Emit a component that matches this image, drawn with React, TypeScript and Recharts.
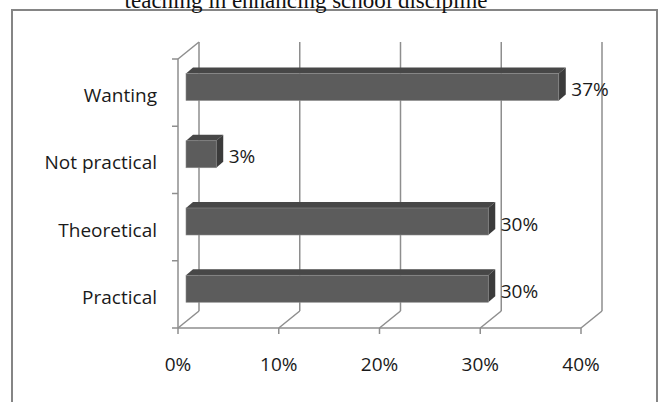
import React from "react";
import { BarChart, Bar, XAxis, YAxis, CartesianGrid, LabelList } from "recharts";

const categories = ["Wanting", "Not practical", "Theoretical", "Practical"];
const percents = [37, 3, 30, 30];
const xTicks = [0, 10, 20, 30, 40];
const TITLE = "teaching in enhancing school discipline";

const data = categories.map((name, i) => ({ name, value: percents[i] }));

const FONT = "'Open Sans', sans-serif";
const LINE = "#8e8e8e";
const TEXT = "#1a1a1a";

// 3d look: wall depth and the bar offset / thickness
const DX = 21;
const DY = 17;
const BX = 8;
const BY = 5.5;
const BD = 7;
const BH = 6;
const BAND = (328 - 59) / 4;

const gridLine = (p: any) => {
  const { x1, y1, y2, index } = p;
  return (
    <g key={`g-${index}`} stroke={LINE} strokeWidth={1.5}>
      <line x1={x1 + DX} y1={y1 - DY} x2={x1 + DX} y2={y2 - DY} />
      <line x1={x1} y1={y2} x2={x1 + DX} y2={y2 - DY} />
      {index === 0 && <line x1={x1} y1={y1} x2={x1 + DX} y2={y1 - DY} />}
    </g>
  );
};

const CatTick = (p: any) => {
  const { x, y, payload, index, visibleTicksCount } = p;
  const last = index === (visibleTicksCount ?? categories.length) - 1;
  return (
    <g>
      <text x={x} y={y + 9.5} textAnchor="end" fill={TEXT} fontSize={19} fontFamily={FONT}>
        {payload.value}
      </text>
      <line x1={x + 15} y1={y - BAND / 2} x2={x + 21} y2={y - BAND / 2} stroke={LINE} strokeWidth={1.5} />
      {last && <line x1={x + 15} y1={y + BAND / 2} x2={x + 21} y2={y + BAND / 2} stroke={LINE} strokeWidth={1.5} />}
    </g>
  );
};

const Bar3D = (p: any) => {
  const { x, y, width, height } = p;
  const fx = x + BX;
  const fy = y - BY;
  return (
    <g>
      <polygon
        points={`${fx},${fy} ${fx + width},${fy} ${fx + width + BD},${fy - BH} ${fx + BD},${fy - BH}`}
        fill="#474747"
      />
      <polygon
        points={`${fx + width},${fy} ${fx + width + BD},${fy - BH} ${fx + width + BD},${fy + height - BH} ${fx + width},${fy + height}`}
        fill="#3b3b3b"
      />
      <rect x={fx} y={fy} width={width} height={height} fill="#5c5c5c" stroke="#8a8a8a" strokeWidth={0.6} />
    </g>
  );
};

const ValueLabel = (p: any) => {
  const { x, y, width, height, value } = p;
  return (
    <text x={x + width + 20.5} y={y + height / 2 - BY + 9} fill={TEXT} fontSize={19} fontFamily={FONT}>
      {`${value}%`}
    </text>
  );
};

export default function App() {
  return (
    <div style={{ position: "absolute", left: 0, top: 0, width: 660, height: 402, background: "#fff", overflow: "hidden" }}>
      <div
        style={{
          position: "absolute", left: 11, top: 9, width: 647, height: 420,
          border: "2px solid #858585", boxSizing: "border-box",
        }}
      />
      <svg width={660} height={20} style={{ position: "absolute", left: 0, top: 0 }}>
        <text x={306} y={8} textAnchor="middle" fontFamily="'Liberation Serif', serif" fontSize={23} fill="#111">
          {TITLE}
        </text>
      </svg>
      <div style={{ position: "absolute", left: 0, top: 0 }}>
        <BarChart
          width={660}
          height={402}
          data={data}
          layout="vertical"
          margin={{ top: 59, right: 79, bottom: 0, left: 0 }}
        >
          <CartesianGrid horizontal={false} vertical={gridLine} />
          <XAxis
            type="number"
            domain={[0, 40]}
            ticks={xTicks}
            tickFormatter={(v: number) => `${v}%`}
            height={74}
            axisLine={{ stroke: LINE, strokeWidth: 1.5 }}
            tickLine={{ stroke: LINE, strokeWidth: 1.5 }}
            tickSize={6}
            tickMargin={24}
            tick={{ fill: TEXT, fontSize: 19, fontFamily: FONT }}
            interval={0}
          />
          <YAxis
            type="category"
            dataKey="name"
            width={178}
            axisLine={{ stroke: LINE, strokeWidth: 1.5 }}
            tickLine={false}
            tickSize={5}
            tickMargin={16}
            tick={<CatTick />}
            interval={0}
          />
          <Bar dataKey="value" barSize={27} shape={<Bar3D />} isAnimationActive={false}>
            <LabelList dataKey="value" content={<ValueLabel />} />
          </Bar>
        </BarChart>
      </div>
    </div>
  );
}
